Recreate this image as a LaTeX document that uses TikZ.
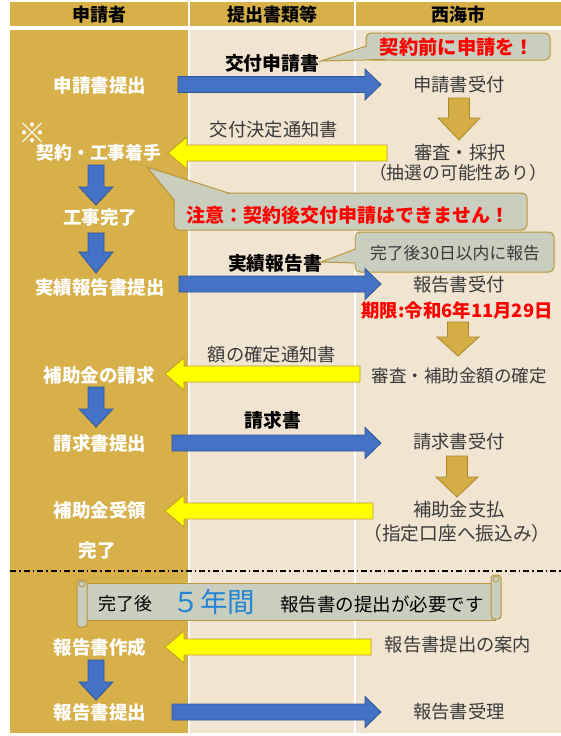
\documentclass[tikz,border=0pt]{standalone}
\usepackage{fontspec}
\setmainfont{Noto Sans CJK JP}
\definecolor{gold}{HTML}{D7B04A}
\definecolor{beige}{HTML}{F1E4D0}
\definecolor{ablue}{HTML}{4472C4}
\definecolor{ablueb}{HTML}{2F5597}
\definecolor{ayel}{HTML}{FFFF00}
\definecolor{ayelb}{HTML}{BF9A30}
\definecolor{agold}{HTML}{D4AD45}
\definecolor{agoldb}{HTML}{A8892C}
\definecolor{callfill}{HTML}{C9CEBF}
\definecolor{callb}{HTML}{B8963C}
\definecolor{txtgray}{HTML}{3A3A3A}
\definecolor{fivecol}{HTML}{2384D4}
\newcommand\HArrowR[4]{\draw[#4] (#1,#3-8) -- (#2-16,#3-8) -- (#2-16,#3-15.5) -- (#2,#3) -- (#2-16,#3+15.5) -- (#2-16,#3+8) -- (#1,#3+8) -- cycle;}
\newcommand\HArrowL[4]{\draw[#4] (#1,#3-8) -- (#2+19,#3-8) -- (#2+19,#3-16) -- (#2,#3) -- (#2+19,#3+16) -- (#2+19,#3+8) -- (#1,#3+8) -- cycle;}
\newcommand\VArrowD[7]{\draw[#7] (#1-#5,#2) -- (#1+#5,#2) -- (#1+#5,#4) -- (#1+#6,#4) -- (#1,#3) -- (#1-#6,#4) -- (#1-#5,#4) -- cycle;}
\begin{document}
\begin{tikzpicture}[x=1pt,y=-1pt,
  blueA/.style={fill=ablue,draw=ablueb,line width=0.8pt},
  yelA/.style={fill=ayel,draw=ayelb,line width=0.8pt},
  goldA/.style={fill=agold,draw=agoldb,line width=0.8pt},
  hdr/.style={inner sep=0,font=\bfseries\fontsize{18}{20}\selectfont,text=black},
  wlabel/.style={inner sep=0,font=\bfseries\fontsize{18.5}{20}\selectfont,text=white},
  clabel/.style={inner sep=0,font=\fontsize{18.3}{20}\selectfont,text=txtgray},
  docb/.style={inner sep=0,font=\bfseries\fontsize{18.8}{20}\selectfont,text=black},
  redtxt/.style={inner sep=0,font=\bfseries\fontsize{19}{20}\selectfont,text=red},
  callbox/.style={fill=callfill,draw=callb,line width=1pt,rounded corners=5pt},
  wedgefill/.style={fill=callfill},
  wedgeline/.style={draw=callb,line width=1pt}
]
\useasboundingbox (0,0) rectangle (561,736);
\fill[white] (0,0) rectangle (561,736);
% header
\fill[gold] (10,2) rectangle (188,26);
\fill[gold] (190,2) rectangle (354,26);
\fill[gold] (356,2) rectangle (561,26);
\node[hdr] (h1) at (99,15) {申請者};
\node[hdr] (h2) at (272,15) {提出書類等};
\node[hdr] (h3) at (458,15) {西海市};
% body
\fill[gold] (10,30) rectangle (188,733);
\fill[beige] (190,30) rectangle (354,733);
\fill[beige] (356,30) rectangle (561,733);

% callout 1
\draw[callbox] (366,33) rectangle (550,60);
\fill[wedgefill] (369,46) -- (321,61) -- (386,58.5) -- cycle;
\draw[wedgeline] (366.5,46) -- (321,61) -- (385,59.5);
\node[redtxt,font=\bfseries\fontsize{19.3}{20}\selectfont] (c1) at (457,47) {契約前に申請を！};

% row 1
\node[wlabel] (a1) at (100,85) {申請書提出};
\node[docb] (d1) at (272,63) {交付申請書};
\node[clabel] (b1) at (459,85) {申請書受付};
\HArrowR{178}{381}{84.5}{blueA}
\VArrowD{459}{98}{140}{118}{10.5}{21}{goldA}

% row 2
\node[inner sep=0,font=\fontsize{28}{30}\selectfont,text=white] (k1) at (32,133) {※};
\node[wlabel,font=\bfseries\fontsize{17.8}{20}\selectfont] (a2) at (99,153) {契約・工事着手};
\node[clabel] (d2) at (274,130) {交付決定通知書};
\node[clabel] (b2) at (460,153) {審査・採択};
\node[clabel,font=\fontsize{17.8}{20}\selectfont] (b2b) at (458,173) {（抽選の可能性あり）};
\HArrowL{387}{168}{153}{yelA}

% callout 2
\draw[callbox] (174,193) rectangle (527,230);
\fill[wedgefill] (176,201) -- (147,167) -- (230,194.5) -- cycle;
\draw[wedgeline] (174.5,201) -- (147,167) -- (230,193.5);
\node[redtxt] (c2) at (348,215) {注意：契約後交付申請はできません！};

\VArrowD{96}{165}{205}{187}{8}{17}{blueA}
\node[wlabel] (a3) at (100,217) {工事完了};
\VArrowD{96}{233}{273}{252}{8}{17}{blueA}

% callout 3
\draw[callbox] (355,232) rectangle (554,272);
\fill[wedgefill] (358,249) -- (321,262) -- (358,263) -- cycle;
\draw[wedgeline] (355.5,249) -- (321,262) -- (355.5,263);
\node[inner sep=0,font=\fontsize{16.8}{20}\selectfont,text=txtgray] (c3) at (455,253) {完了後30日以内に報告};

% row 3
\node[wlabel] (a4) at (100,287) {実績報告書提出};
\node[docb] (d3) at (275,263) {実績報告書};
\node[clabel] (b3) at (459,285) {報告書受付};
\node[redtxt,font=\bfseries\fontsize{18.4}{20}\selectfont] (r1) at (457,310) {期限:令和6年11月29日};
\HArrowR{179}{381}{284}{blueA}
\VArrowD{458}{322}{356}{337}{10.5}{21}{goldA}

% row 4
\node[clabel] (d4) at (272,355) {額の確定通知書};
\node[wlabel] (a5) at (99,375) {補助金の請求};
\node[clabel,font=\fontsize{17.5}{20}\selectfont] (b4) at (459,376) {審査・補助金額の確定};
\HArrowL{360}{165}{374}{yelA}
\VArrowD{96}{387}{427}{409}{8}{17}{blueA}

% row 5
\node[docb] (d5) at (273,420) {請求書};
\node[wlabel] (a6) at (100,443) {請求書提出};
\node[clabel] (b5) at (459,442) {請求書受付};
\HArrowR{172}{381}{443}{blueA}
\VArrowD{457}{456}{497}{477}{10.5}{21}{goldA}

% row 6
\node[wlabel] (a7) at (100,510) {補助金受領};
\node[clabel] (b6) at (459,510) {補助金支払};
\node[clabel,font=\fontsize{18.7}{20}\selectfont] (b6b) at (457,533) {（指定口座へ振込み）};
\HArrowL{373}{165}{511}{yelA}
\node[wlabel] (a8) at (97,551) {完了};

% separator
\coordinate (sepL) at (10,571);
\coordinate (sepR) at (561,571);
\draw[black,line width=1.3pt,dash pattern=on 6pt off 3pt on 1.5pt off 3pt] (sepL) -- (sepR);

% banner (scroll)
\draw[callbox,rounded corners=0pt] (85,583) rectangle (495,620);
\draw[fill=callfill,draw=callb,line width=1pt,rounded corners=3pt] (77,580) rectangle (87,627);
\draw[fill=callfill,draw=callb,line width=0.8pt] (82,584) circle (3);
\draw[fill=callfill,draw=callb,line width=1pt,rounded corners=3pt] (491,575) rectangle (501,619);
\draw[fill=callfill,draw=callb,line width=0.8pt] (496,579) circle (3);
\node[inner sep=0,font=\fontsize{18}{20}\selectfont,text=black] (s1) at (125,604) {完了後};
\node[inner sep=0,font=\fontsize{27.5}{28}\selectfont,text=fivecol] (s2) at (214,602) {５年間};
\node[inner sep=0,font=\fontsize{18.5}{20}\selectfont,text=black] (s3) at (382,604) {報告書の提出が必要です};

% row 7
\node[wlabel] (a9) at (100,647) {報告書作成};
\node[clabel] (b7) at (458,645) {報告書提出の案内};
\HArrowL{371}{165}{647}{yelA}
\VArrowD{96}{660}{700}{682}{8}{17}{blueA}

% row 8
\node[wlabel] (a10) at (100,712) {報告書提出};
\node[clabel] (b8) at (459,712) {報告書受理};
\HArrowR{172}{381}{712}{blueA}
\end{tikzpicture}
\end{document}
